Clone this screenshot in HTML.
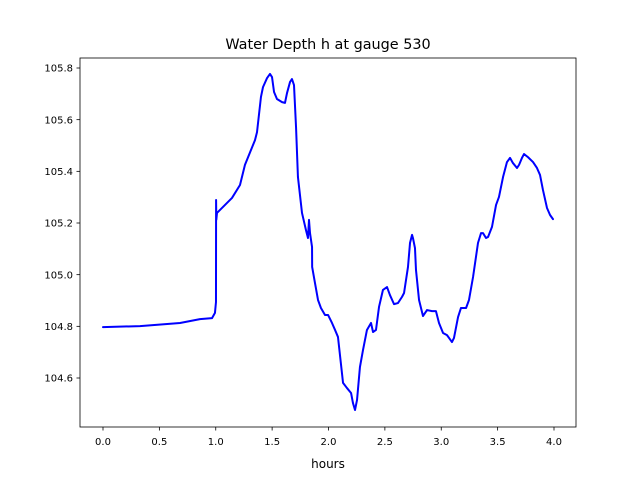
<!DOCTYPE html>
<html><head><meta charset="utf-8"><style>
html,body{margin:0;padding:0;background:#fff;}
svg text{font-family:"DejaVu Sans","Liberation Sans",sans-serif;fill:#000;}
</style></head><body>
<svg id="chart" width="640" height="480" xmlns="http://www.w3.org/2000/svg">
<rect width="640" height="480" fill="#fff"/>
<text x="328" y="49" font-size="14.4" text-anchor="middle">Water Depth h at gauge 530</text>
<text x="328" y="468" font-size="12" text-anchor="middle">hours</text>
<g id="xticks"></g>
<g id="yticks"></g>
<path id="series" fill="none" stroke="#0000ff" stroke-width="2" stroke-linejoin="round" stroke-linecap="round"/>
<rect x="80" y="58" width="496" height="369" fill="none" stroke="#000" stroke-width="0.8"/>
</svg>
<script>
const hours=[0,0.328,0.683,0.860,0.967,0.993,1.002,1.003,1.005,1.011,1.082,1.144,1.215,1.259,1.348,1.366,1.401,1.419,1.455,1.481,1.499,1.517,1.543,1.588,1.614,1.632,1.659,1.676,1.694,1.712,1.729,1.765,1.800,1.818,1.827,1.836,1.854,1.855,1.880,1.907,1.933,1.969,1.996,2.031,2.058,2.084,2.129,2.164,2.200,2.217,2.235,2.253,2.279,2.306,2.341,2.377,2.395,2.421,2.448,2.483,2.519,2.545,2.581,2.616,2.652,2.670,2.705,2.723,2.741,2.749,2.767,2.776,2.803,2.838,2.874,2.918,2.953,2.980,3.016,3.051,3.069,3.095,3.113,3.149,3.175,3.220,3.246,3.282,3.326,3.353,3.370,3.397,3.415,3.450,3.486,3.512,3.548,3.583,3.610,3.636,3.672,3.690,3.716,3.734,3.769,3.814,3.849,3.876,3.902,3.938,3.965,3.991];
const depth=[104.797,104.801,104.813,104.828,104.832,104.852,104.894,105.289,105.212,105.239,105.270,105.297,105.347,105.425,105.521,105.552,105.688,105.726,105.761,105.777,105.765,105.707,105.680,105.668,105.665,105.703,105.746,105.757,105.734,105.572,105.378,105.239,105.173,105.142,105.212,105.161,105.107,105.030,104.968,104.902,104.871,104.844,104.844,104.813,104.786,104.759,104.581,104.561,104.542,104.503,104.476,104.515,104.643,104.708,104.786,104.813,104.778,104.786,104.875,104.941,104.952,104.921,104.886,104.890,104.914,104.929,105.030,105.123,105.154,105.142,105.103,105.018,104.902,104.840,104.863,104.859,104.859,104.813,104.774,104.766,104.755,104.739,104.755,104.836,104.871,104.871,104.902,104.991,105.123,105.161,105.161,105.142,105.146,105.185,105.270,105.301,105.378,105.436,105.452,105.432,105.413,105.425,105.452,105.467,105.455,105.436,105.413,105.386,105.328,105.258,105.231,105.215];
const xTickLabels=["0.0","0.5","1.0","1.5","2.0","2.5","3.0","3.5","4.0"];
const yTickLabels=["104.6","104.8","105.0","105.2","105.4","105.6","105.8"];
const NS="http://www.w3.org/2000/svg";
function xs(v){return 103+(v-0)*112.75;}
function ys(v){return 378-(v-104.6)*258.33;}
const xg=document.getElementById('xticks');
xTickLabels.forEach(function(l){
  const x=xs(parseFloat(l));
  const t=document.createElementNS(NS,'line');
  t.setAttribute('x1',x);t.setAttribute('x2',x);t.setAttribute('y1',427);t.setAttribute('y2',430.5);
  t.setAttribute('stroke','#000');t.setAttribute('stroke-width','0.8');
  
  
  xg.appendChild(t);
  const tx=document.createElementNS(NS,'text');
  tx.setAttribute('x',x);tx.setAttribute('y',445);tx.setAttribute('font-size','10');tx.setAttribute('text-anchor','middle');
  tx.textContent=l;
  
  
  xg.appendChild(tx);
});
const yg=document.getElementById('yticks');
yTickLabels.forEach(function(l){
  const y=ys(parseFloat(l));
  const t=document.createElementNS(NS,'line');
  t.setAttribute('x1',76.5);t.setAttribute('x2',80);t.setAttribute('y1',y);t.setAttribute('y2',y);
  t.setAttribute('stroke','#000');t.setAttribute('stroke-width','0.8');
  
  
  yg.appendChild(t);
  const tx=document.createElementNS(NS,'text');
  tx.setAttribute('x',73);tx.setAttribute('y',y+3.6);tx.setAttribute('font-size','10');tx.setAttribute('text-anchor','end');
  tx.textContent=l;
  
  
  yg.appendChild(tx);
});
let d='';
hours.forEach(function(h,i){d+=(i?'L':'M')+xs(h).toFixed(2)+' '+ys(depth[i]).toFixed(2);});
document.getElementById('series').setAttribute('d',d);
</script>
</body></html>
